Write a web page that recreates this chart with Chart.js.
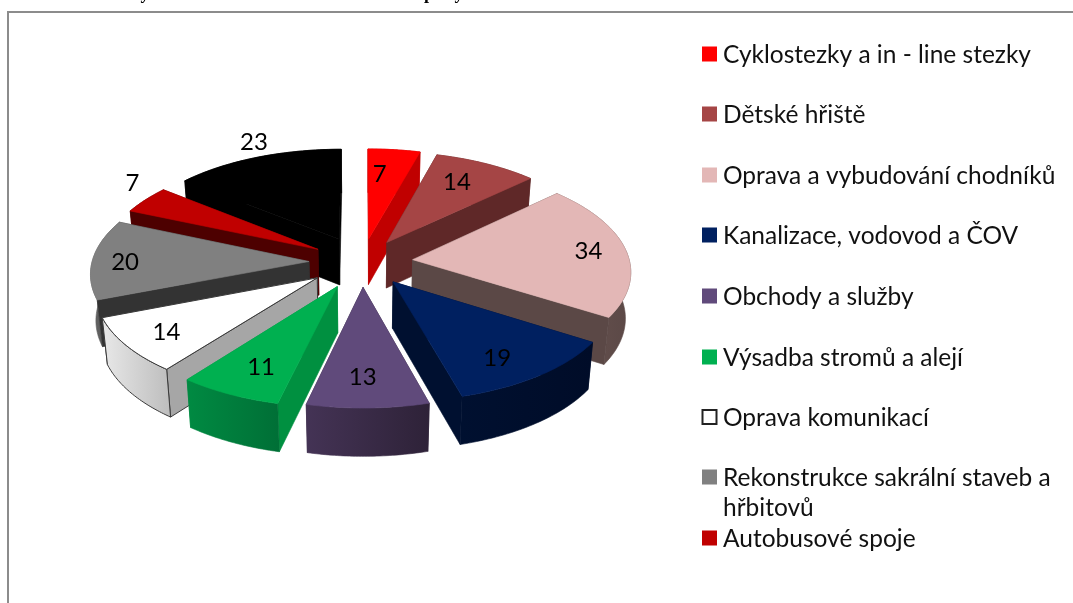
<!DOCTYPE html>
<html><head><meta charset="utf-8">
<style>html,body{margin:0;padding:0;background:#fff;overflow:hidden}canvas{display:block}</style>
<script src="https://cdn.jsdelivr.net/npm/chart.js@4"></script>
</head><body><canvas id="c" width="1073" height="603"></canvas>
<script>
const categories=["Cyklostezky a in - line stezky","Dětské hřiště","Oprava a vybudování chodníků","Kanalizace, vodovod a ČOV","Obchody a služby","Výsadba stromů a alejí","Oprava komunikací","Rekonstrukce sakrální staveb a hřbitovů","Autobusové spoje",""];
const values=[7,14,34,19,13,11,14,20,7,23];
const topColors=["#ff0000","#a54545","#e3b7b6","#002060","#604a7b","#00b050","#ffffff","#808080","#c00000","#000000"];
const sideColors=["#c00000","#5f2828","#5b4846","#001030","#30243d","#009040","#a6a6a6","#333333","#4d0000","#000000"];
const outerStart=["#c00000","#5f2828","#6a5552","#001030","#443355","#008a42","#e8e8e8","#666666","#4d0000","#000000"];
const outerEnd=["#c00000","#5f2828","#5b4846","#000c28","#2e2238","#006f36","#bdbdbd","#4a4a4a","#4d0000","#000000"];
const explode=[50,49,51,51,52,56,55,53,52,54];
const labelReach=[.73,.75,.81,.82,.76,.76,.8,.85,1.16,1.24];
const labelNudge=[[-8,2],[-6,0],[3,0],[-14,1],[-4,1],[4,1],[0,1],[0,2],[13,-9],[15,3]];
const legendRows=[54,114,175,235,296,357,417,477,538];
const legendLines=[["Cyklostezky a in - line stezky"],["Dětské hřiště"],["Oprava a vybudování chodníků"],["Kanalizace, vodovod a ČOV"],["Obchody a služby"],["Výsadba stromů a alejí"],["Oprava komunikací"],["Rekonstrukce sakrální staveb a","hřbitovů"],["Autobusové spoje"]];
const titleBits=[["y",145],["p",429],["y",459]];

const PERSP=.000458, TILT=.476, DEPTH=46, CONVERGE=.02;
const TEXT='"Lato","Carlito",sans-serif';

function projector(cx,cy){
  return (u,v,z)=>{
    const s=1/(1-PERSP*v);
    return [cx+u*s*(1-CONVERGE*z), cy+TILT*v*s+z*DEPTH*(1+.05*v/269)];
  };
}
function poly(ctx,pts,fill,line){
  ctx.beginPath();
  pts.forEach((p,i)=>i?ctx.lineTo(p[0],p[1]):ctx.moveTo(p[0],p[1]));
  ctx.closePath();
  ctx.fillStyle=fill;ctx.fill();
  ctx.lineWidth=line?1:.6;ctx.strokeStyle=line||fill;ctx.stroke();
}
function drawSlice(ctx,el,i,P){
  const {startAngle:a0,endAngle:a1,outerRadius:R}=el.getProps(['startAngle','endAngle','outerRadius'],true);
  const mid=(a0+a1)/2,d=el.options.offset;
  const ou=Math.cos(mid)*d,ov=Math.sin(mid)*d;
  const rim=[];const N=40;
  for(let k=0;k<=N;k++){const a=a0+(a1-a0)*k/N;rim.push([ou+Math.cos(a)*R,ov+Math.sin(a)*R]);}
  const line=i===6?'#3a3a3a':null;
  const faces=[];
  const wall=(q)=>{const pts=[P(ou,ov,0),P(q[0],q[1],0),P(q[0],q[1],1),P(ou,ov,1)];return {depth:(ov+q[1])/2,draw(){poly(ctx,pts,sideColors[i],line);}};};
  faces.push(wall(rim[0]));faces.push(wall(rim[N]));
  const arcTop=rim.map(p=>P(p[0],p[1],0)),arcBot=rim.map(p=>P(p[0],p[1],1)).reverse();
  const arcPts=arcTop.concat(arcBot);
  const meanV=rim.reduce((s,p)=>s+p[1],0)/rim.length;
  faces.push({depth:meanV,draw(){
    const xs=arcPts.map(p=>p[0]);
    const g=ctx.createLinearGradient(Math.min(...xs),0,Math.max(...xs),0);
    g.addColorStop(0,outerStart[i]);g.addColorStop(1,outerEnd[i]);
    poly(ctx,arcPts,g,line);
  }});
  faces.sort((a,b)=>a.depth-b.depth).forEach(f=>f.draw());
  poly(ctx,[P(ou,ov,0)].concat(arcTop),topColors[i],line);
}
const pie3d={
  id:'pie3d',
  beforeDraw(chart){
    const ctx=chart.ctx;
    ctx.save();
    ctx.fillStyle='#fff';ctx.fillRect(0,0,1073,603);
    ctx.strokeStyle='#8c8c8c';ctx.lineWidth=2;
    ctx.beginPath();ctx.moveTo(8,603);ctx.lineTo(8,12);ctx.lineTo(1073,12);ctx.stroke();
    ctx.fillStyle='#000';ctx.font='bold 18px "Liberation Serif",serif';ctx.textAlign='center';ctx.textBaseline='alphabetic';
    titleBits.forEach(t=>ctx.fillText(t[0],t[1],-1.5));
    ctx.restore();
  },
  beforeDatasetDraw(chart,args){
    const ctx=chart.ctx,meta=args.meta,first=meta.data[0];
    const P=projector(first.x,first.y);
    const order=meta.data.map((el,i)=>{const p=el.getProps(['startAngle','endAngle'],true);return {i,el,k:Math.sin((p.startAngle+p.endAngle)/2)};}).sort((a,b)=>a.k-b.k);
    ctx.save();
    order.forEach(o=>drawSlice(ctx,o.el,o.i,P));
    ctx.textAlign='center';ctx.textBaseline='middle';ctx.fillStyle='#000';ctx.font='24px '+TEXT;
    meta.data.forEach((el,i)=>{
      const p=el.getProps(['startAngle','endAngle','outerRadius'],true);
      const m=(p.startAngle+p.endAngle)/2,d=el.options.offset,r=p.outerRadius*labelReach[i];
      const q=P(Math.cos(m)*(d+r),Math.sin(m)*(d+r),0);
      ctx.fillText(String(values[i]),q[0]+labelNudge[i][0],q[1]+labelNudge[i][1]);
    });
    ctx.restore();
    return false;
  },
  afterDraw(chart){
    const ctx=chart.ctx;
    ctx.save();
    ctx.textAlign='left';ctx.textBaseline='middle';ctx.font='24.5px '+TEXT;
    legendLines.forEach((lines,i)=>{
      const y=legendRows[i];
      if(topColors[i]==='#ffffff'){ctx.strokeStyle='#222';ctx.lineWidth=2;ctx.strokeRect(702.5,y-7,14,14);}
      else{ctx.fillStyle=topColors[i];ctx.fillRect(702,y-7.5,15,15);}
      ctx.fillStyle='#111';
      lines.forEach((t,j)=>ctx.fillText(t,723,y+1+j*30));
    });
    ctx.restore();
  }
};
new Chart(document.getElementById('c'),{
  type:'pie',
  data:{labels:categories,datasets:[{data:values,backgroundColor:topColors,offset:explode,borderWidth:0}]},
  options:{
    responsive:false,animation:false,radius:217,
    layout:{padding:{left:145,right:494,top:45,bottom:124}},
    plugins:{legend:{display:false},tooltip:{enabled:false},title:{display:false}}
  },
  plugins:[pie3d]
});
</script></body></html>
